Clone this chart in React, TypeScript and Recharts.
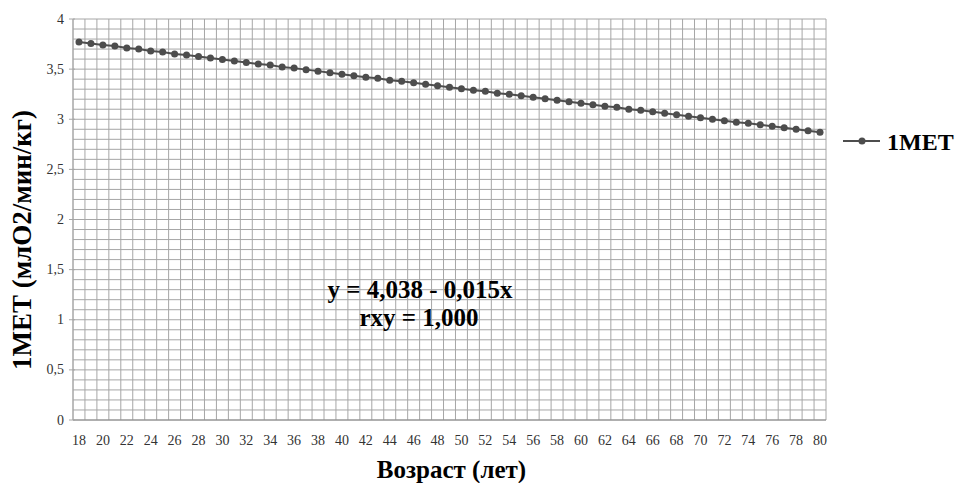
import React from "react";
import {
  CartesianGrid,
  Customized,
  Legend,
  Line,
  LineChart,
  XAxis,
  YAxis,
} from "recharts";

const AGES = [
  18, 19, 20, 21, 22, 23, 24, 25, 26, 27, 28, 29, 30, 31, 32, 33, 34, 35, 36,
  37, 38, 39, 40, 41, 42, 43, 44, 45, 46, 47, 48, 49, 50, 51, 52, 53, 54, 55,
  56, 57, 58, 59, 60, 61, 62, 63, 64, 65, 66, 67, 68, 69, 70, 71, 72, 73, 74,
  75, 76, 77, 78, 79, 80,
];

const MET = [
  3.77, 3.755, 3.74, 3.73, 3.71, 3.7, 3.68, 3.67, 3.65, 3.64, 3.625, 3.61,
  3.595, 3.58, 3.565, 3.55, 3.54, 3.52, 3.51, 3.495, 3.48, 3.465, 3.45, 3.435,
  3.42, 3.41, 3.39, 3.38, 3.365, 3.35, 3.335, 3.32, 3.305, 3.29, 3.28, 3.26,
  3.25, 3.235, 3.22, 3.205, 3.19, 3.175, 3.16, 3.145, 3.13, 3.12, 3.1, 3.09,
  3.075, 3.06, 3.045, 3.03, 3.015, 3.0, 2.985, 2.97, 2.96, 2.945, 2.93, 2.915,
  2.9, 2.885, 2.87,
];

const X_LABELS = [
  18, 20, 22, 24, 26, 28, 30, 32, 34, 36, 38, 40, 42, 44, 46, 48, 50, 52, 54,
  56, 58, 60, 62, 64, 66, 68, 70, 72, 74, 76, 78, 80,
];

const SERIES_NAME = "1МЕТ";
const Y_TITLE = "1МЕТ (млО2/мин/кг)";
const X_TITLE = "Возраст (лет)";
const EQUATION = "y = 4,038 - 0,015x";
const CORRELATION = "rxy = 1,000";

const data = AGES.map((age, i) => ({ age, met: MET[i] }));

const X_DOMAIN: [number, number] = [17.5, 80.5];

// minor grid: one column per year, one row per 0.1
const gridX = AGES.concat([81]).map((a) => a - 0.5);
const gridY = Array.from({ length: 41 }, (_, i) => i / 10);

const FONT = "Liberation Serif, Times New Roman, DejaVu Serif, serif";
const GRID = "#a6a6a6";
const LINE = "#4d4d4d";

const isMajor = (v: number) => Math.abs(v * 2 - Math.round(v * 2)) < 1e-6;

const YTick = (props: any) => {
  const { x, y, payload } = props;
  const v = payload.value as number;
  if (!isMajor(v)) return null;
  return (
    <g>
      <line x1={x + 4} x2={x + 10} y1={y} y2={y} stroke={GRID} />
      <text
        x={x - 1}
        y={y}
        textAnchor="end"
        dominantBaseline="central"
        fontFamily={FONT}
        fontSize={14}
        fill="#333"
      >
        {String(v).replace(".", ",")}
      </text>
    </g>
  );
};

const YTitle = () => (
  <text
    transform="translate(22, 240) rotate(-90)"
    textAnchor="middle"
    dominantBaseline="central"
    fontFamily={FONT}
    fontWeight="bold"
    fontSize={27}
    fill="#000"
  >
    {Y_TITLE}
  </text>
);

const verticalLines = ({ offset }: any) =>
  gridX.map(
    (v) =>
      offset.left +
      ((v - X_DOMAIN[0]) / (X_DOMAIN[1] - X_DOMAIN[0])) * offset.width
  );

const LegendBox = () => (
  <svg width={120} height={30}>
    <line x1={7} x2={44} y1={15} y2={15} stroke={LINE} strokeWidth={2} />
    <circle cx={26} cy={15} r={3.5} fill={LINE} />
    <text
      x={51}
      y={16}
      dominantBaseline="central"
      fontFamily={FONT}
      fontWeight="bold"
      fontSize={24}
      fill="#000"
    >
      {SERIES_NAME}
    </text>
  </svg>
);

const Annotation = () => (
  <g
    fontFamily={FONT}
    fontWeight="bold"
    fontSize={25}
    fill="#000"
    textAnchor="middle"
  >
    <text x={420} y={298}>
      {EQUATION}
    </text>
    <text x={419} y={326}>
      {CORRELATION}
    </text>
  </g>
);

const App = () => {
  return (
    <div style={{ position: "absolute", left: 0, top: 0 }}>
      <LineChart
        width={956}
        height={483}
        data={data}
        margin={{ top: 19, right: 10, bottom: 0, left: 0 }}
      >
        <CartesianGrid
          stroke={GRID}
          strokeWidth={1}
          verticalCoordinatesGenerator={verticalLines}
        />
        <XAxis
          dataKey="age"
          type="number"
          domain={X_DOMAIN}
          ticks={X_LABELS}
          interval={0}
          height={63}
          tickLine={false}
          axisLine={{ stroke: "#8c8c8c" }}
          tick={{ fontFamily: FONT, fontSize: 14, fill: "#333", dy: 7 }}
          label={{
            value: X_TITLE,
            position: "insideBottom",
            offset: 5,
            dx: 2,
            style: {
              fontFamily: FONT,
              fontWeight: "bold",
              fontSize: 25,
              fill: "#000",
            },
          }}
        />
        <YAxis
          type="number"
          domain={[0, 4]}
          ticks={gridY}
          interval={0}
          width={73}
          tickLine={false}
          axisLine={{ stroke: GRID }}
          tick={<YTick />}
        />
        <Legend
          layout="vertical"
          align="right"
          verticalAlign="top"
          content={() => <LegendBox />}
          wrapperStyle={{ width: 120, top: 126, left: 836 }}
        />
        <Line
          dataKey="met"
          name={SERIES_NAME}
          stroke={LINE}
          strokeWidth={2}
          dot={{ r: 3.5, fill: LINE, stroke: LINE, strokeWidth: 0 }}
          isAnimationActive={false}
        />
        <Customized component={Annotation} />
        <Customized component={YTitle} />
      </LineChart>
    </div>
  );
};

export default App;
